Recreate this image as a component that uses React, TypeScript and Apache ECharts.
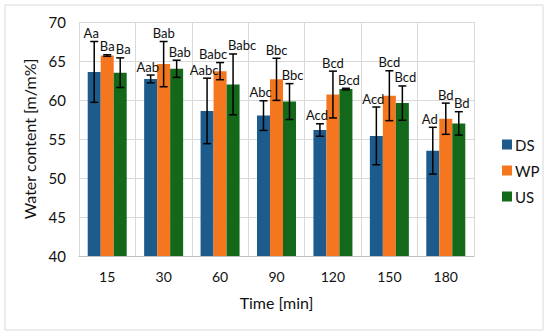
import React, { useEffect, useRef } from "react";
import * as echarts from "echarts";

const categories = ["15", "30", "60", "90", "120", "150", "180"];
const seriesNames = ["DS", "WP", "US"];
const dsValues = [63.6, 62.7, 58.6, 58.0, 56.15, 55.4, 53.5];
const wpValues = [65.7, 64.6, 63.7, 62.65, 60.7, 60.55, 57.6];
const usValues = [63.5, 64.0, 62.0, 59.8, 61.4, 59.6, 57.0];
const dsErrors = [3.9, 0.5, 4.2, 1.9, 0.8, 3.7, 3.0];
const wpErrors = [0.1, 2.9, 1.1, 2.7, 3.0, 3.2, 2.0];
const usErrors = [1.9, 1.1, 3.9, 2.3, 0.1, 2.2, 1.5];
const dsLetters = ["Aa", "Aab", "Aabc", "Abc", "Acd", "Acd", "Ad"];
const wpLetters = ["Ba", "Bab", "Babc", "Bbc", "Bcd", "Bcd", "Bd"];
const usLetters = ["Ba", "Bab", "Babc", "Bbc", "Bcd", "Bcd", "Bd"];
const colors = ["#1d5b8c", "#f4761f", "#13681a"];

const FONT = "Lato, 'Noto Sans', sans-serif";
const BAR_W = 13;

// label horizontal nudges (styling only), keyed by category index
const wpNudge: Record<number, number> = { 2: -7 };
const usNudge: Record<number, number> = { 2: 6 };

function errorSeries(
  name: string,
  values: number[],
  errors: number[],
  letters: string[],
  offset: number,
  labelShift: number,
  nudge: Record<number, number>
) {
  const data = values.map((v, i) => [i, v, errors[i]]);
  return {
    type: "custom",
    name: name,
    z: 5,
    silent: true,
    data,
    renderItem: (params: any, api: any) => {
      const idx = api.value(0);
      const v = api.value(1);
      const e = api.value(2);
      const letter = letters[params.dataIndex];
      const top = api.coord([idx, v + e]);
      const bot = api.coord([idx, v - e]);
      const x = top[0] + offset;
      const cap = 4;
      return {
        type: "group",
        children: [
          { type: "line", shape: { x1: x, y1: top[1], x2: x, y2: bot[1] }, style: { stroke: "#000", lineWidth: 1.5 } },
          { type: "line", shape: { x1: x - cap, y1: top[1], x2: x + cap, y2: top[1] }, style: { stroke: "#000", lineWidth: 1.5 } },
          { type: "line", shape: { x1: x - cap, y1: bot[1], x2: x + cap, y2: bot[1] }, style: { stroke: "#000", lineWidth: 1.5 } },
          {
            type: "text",
            x: x + labelShift + (nudge[params.dataIndex] || 0),
            y: top[1] - 2,
            style: {
              text: letter,
              fill: "#111",
              font: `13px ${FONT}`,
              align: "center",
              verticalAlign: "bottom",
            },
          },
        ],
      };
    },
  };
}

export default function App() {
  const ref = useRef<HTMLDivElement>(null);
  useEffect(() => {
    document.body.style.margin = "0";
    if (!ref.current) return;
    const chart = echarts.init(ref.current, undefined, { renderer: "svg" });
    const allValues = [dsValues, wpValues, usValues];
    chart.setOption({
      animation: false,
      backgroundColor: "#fff",
      textStyle: { fontFamily: FONT },
      graphic: [
        {
          type: "rect",
          shape: { x: 5, y: 5, width: 538, height: 325 },
          style: { fill: "none", stroke: "#d9d9d9", lineWidth: 1 },
          silent: true,
        },
      ],
      grid: { left: 79, right: 76, top: 22, bottom: 80 },
      legend: {
        orient: "vertical",
        left: 497,
        top: 132,
        itemWidth: 10,
        itemHeight: 10,
        itemGap: 11,
        icon: "rect",
        data: seriesNames,
        textStyle: { fontSize: 15, color: "#111", fontFamily: FONT, padding: [0, 0, 0, -2] },
      },
      xAxis: {
        type: "category",
        data: categories,
        name: "Time [min]",
        nameLocation: "middle",
        nameGap: 38,
        nameTextStyle: { fontSize: 16, color: "#111", fontFamily: FONT },
        axisLine: { lineStyle: { color: "#bfbfbf" } },
        axisTick: { show: false },
        axisLabel: { fontSize: 14, color: "#111", margin: 13, fontFamily: FONT },
        splitLine: { show: true, lineStyle: { color: "#d9d9d9" } },
      },
      yAxis: {
        type: "value",
        min: 40,
        max: 70,
        interval: 5,
        name: "Water content [m/m%]",
        nameLocation: "middle",
        nameGap: 36,
        nameTextStyle: { fontSize: 16, color: "#111", fontFamily: FONT },
        axisLine: { show: false },
        axisTick: { show: false },
        axisLabel: { fontSize: 15, color: "#111", margin: 13, fontFamily: FONT },
        splitLine: { lineStyle: { color: "#d9d9d9" } },
      },
      series: [
        ...seriesNames.map((n, i) => ({
          type: "bar",
          name: n,
          data: allValues[i],
          barWidth: BAR_W,
          barGap: "0%",
          itemStyle: { color: colors[i] },
          z: 2,
        })),
        errorSeries("DS", dsValues, dsErrors, dsLetters, -BAR_W, -3, {}),
        errorSeries("WP", wpValues, wpErrors, wpLetters, 0, 0, wpNudge),
        errorSeries("US", usValues, usErrors, usLetters, BAR_W, 3, usNudge),
      ],
      color: colors,
    });
    return () => chart.dispose();
  }, []);
  return <div ref={ref} style={{ width: 550, height: 336 }} />;
}
